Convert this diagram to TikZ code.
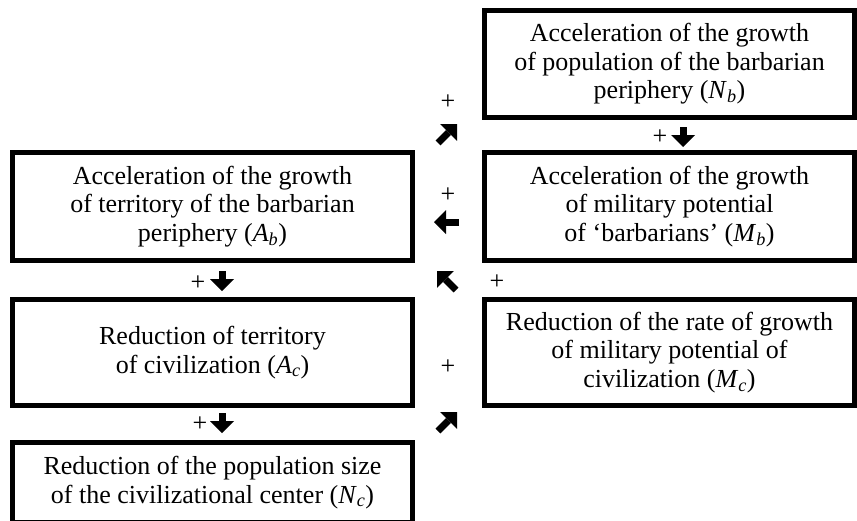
\documentclass[tikz,border=0pt]{standalone}
\usepackage{fontspec}
\setmainfont{Liberation Serif}
\usetikzlibrary{arrows.meta}
\newcommand{\var}[2]{\textit{#1}\textsubscript{\textit{#2}}}

\begin{document}
\begin{tikzpicture}[x=1pt, y=-1pt,
    box/.style={draw, line width=5pt, align=center, inner sep=0pt,
        font=\fontsize{26}{28.5}\selectfont},
    sign/.style={inner sep=0pt, font=\fontsize{26}{28.5}\selectfont},
    blk/.style={line width=7pt, -{Triangle[length=12pt, width=24pt, line width=0pt]}}]
    \useasboundingbox (0,0) rectangle (857,520);
    \clip (0,0) rectangle (857,520);

    % Right column: the barbarian periphery
    \node[box, minimum width=370pt, minimum height=107pt] (Nb) at (669.5,64)
        {Acceleration of the growth\\ of population of the barbarian\\ periphery (\var{N}{b})};
    \node[box, minimum width=370pt, minimum height=108pt] (Mb) at (669.5,206.5)
        {Acceleration of the growth\\ of military potential\\ of `barbarians' (\var{M}{b})};
    \node[box, minimum width=370pt, minimum height=106pt] (Mc) at (669.5,352.5)
        {Reduction of the rate of growth\\ of military potential of\\ civilization (\var{M}{c})};

    % Left column
    \node[box, minimum width=400pt, minimum height=108pt] (Ab) at (212.5,206.5)
        {Acceleration of the growth\\ of territory of the barbarian\\ periphery (\var{A}{b})};
    \node[box, minimum width=400pt, minimum height=106pt] (Ac) at (212.5,352.5)
        {Reduction of territory\\ of civilization (\var{A}{c})};
    \node[box, minimum width=400pt, minimum height=80pt] (Nc) at (212.5,482.5)
        {Reduction of the population size\\ of the civilizational center (\var{N}{c})};

    % Signs
    \node[sign] (s1) at (660,137) {+};
    \node[sign] (s2) at (448,102) {+};
    \node[sign] (s3) at (448,195) {+};
    \node[sign] (s4) at (198,283) {+};
    \node[sign] (s5) at (497,282) {+};
    \node[sign] (s6) at (448,367) {+};
    \node[sign] (s7) at (200,424) {+};

    % Arrows
    \coordinate (u1) at (683,137);
    \coordinate (u2) at (222,281);
    \coordinate (u3) at (222,423);
    \coordinate (u4) at (447,134);
    \coordinate (u5) at (447,222);
    \coordinate (u6) at (447,281);
    \coordinate (u7) at (447,422);
    \draw[blk] ([shift={(0,-10)}]u1) -- ([shift={(0,10)}]u1);
    \draw[blk] ([shift={(0,-10)}]u2) -- ([shift={(0,10)}]u2);
    \draw[blk] ([shift={(0,-10)}]u3) -- ([shift={(0,10)}]u3);
    \draw[blk] ([shift={(-9,9)}]u4) -- ([shift={(10,-10)}]u4);
    \draw[blk] ([shift={(12,0)}]u5) -- ([shift={(-13,0)}]u5);
    \draw[blk] ([shift={(9,9)}]u6) -- ([shift={(-10,-10)}]u6);
    \draw[blk] ([shift={(-9,9)}]u7) -- ([shift={(10,-10)}]u7);
\end{tikzpicture}
\end{document}
